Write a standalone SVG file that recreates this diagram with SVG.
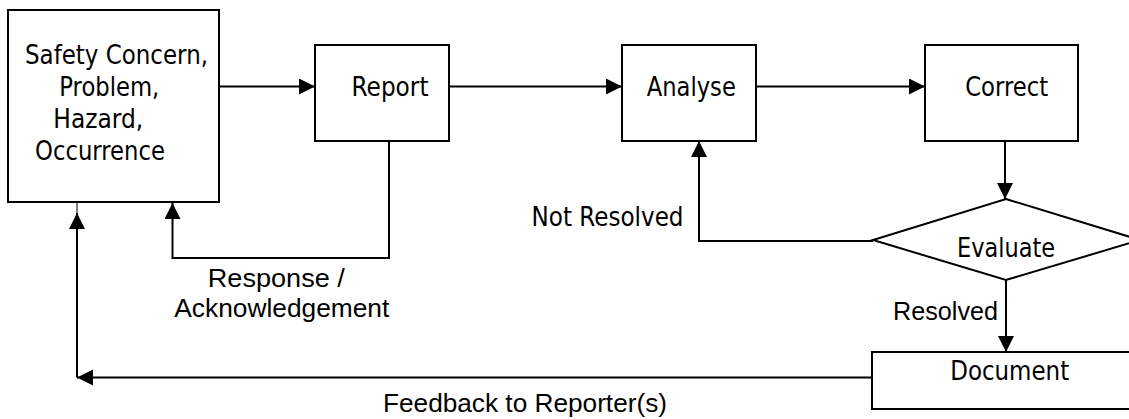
<svg xmlns="http://www.w3.org/2000/svg" width="1129" height="419" viewBox="0 0 1129 419">
<style>
.box{fill:#fff;stroke:#000;stroke-width:2}
.c{fill:none;stroke:#000;stroke-width:2}
.t{font-family:"DejaVu Sans",Tahoma,sans-serif;font-size:26px;fill:#000;text-anchor:middle}
.a{font-family:"Liberation Sans",Arial,sans-serif;font-size:26px;fill:#000;text-anchor:middle}
</style>
<defs>
<marker id="ah" markerUnits="userSpaceOnUse" markerWidth="17" markerHeight="17" refX="16" refY="8" orient="auto">
<path d="M0,0 L16,8 L0,16 z" fill="#000"/>
</marker>
</defs>
<rect width="1129" height="419" fill="#fff"/>
<g id="connectors">
<path class="c" d="M219,86.5 H315" marker-end="url(#ah)"/>
<path class="c" d="M449,86.5 H622" marker-end="url(#ah)"/>
<path class="c" d="M756,86.5 H925" marker-end="url(#ah)"/>
<path class="c" d="M1005,141 V199" marker-end="url(#ah)"/>
<path class="c" d="M873,241 H699 V141" marker-end="url(#ah)"/>
<path class="c" d="M1006,280 V352" marker-end="url(#ah)"/>
<path class="c" d="M389,133 V258 H172.5 V203" marker-end="url(#ah)"/>
<path class="c" d="M872,377.5 H77" marker-end="url(#ah)"/>
<path class="c" d="M77,377.5 V213" marker-end="url(#ah)"/>
<path d="M77,213 V202" stroke="#000" stroke-width="1"/>
</g>
<g id="n-safety">
<rect class="box" x="8" y="10" width="211" height="192"/>
<text class="t" x="116.5" y="64" textLength="183" lengthAdjust="spacingAndGlyphs">Safety Concern,</text>
<text class="t" x="109.3" y="96" textLength="100" lengthAdjust="spacingAndGlyphs">Problem,</text>
<text class="t" x="98.3" y="128" textLength="90" lengthAdjust="spacingAndGlyphs">Hazard,</text>
<text class="t" x="100" y="160" textLength="130" lengthAdjust="spacingAndGlyphs">Occurrence</text>
</g>
<g id="n-report">
<rect class="box" x="315" y="45" width="134" height="96"/>
<text class="t" x="390" y="96" textLength="77" lengthAdjust="spacingAndGlyphs">Report</text>
</g>
<g id="n-analyse">
<rect class="box" x="622" y="45" width="134" height="96"/>
<text class="t" x="691.3" y="96" textLength="89" lengthAdjust="spacingAndGlyphs">Analyse</text>
</g>
<g id="n-correct">
<rect class="box" x="925" y="45" width="153" height="96"/>
<text class="t" x="1006.7" y="96" textLength="83" lengthAdjust="spacingAndGlyphs">Correct</text>
</g>
<g id="n-evaluate">
<polygon class="box" points="1006,199 1140,240 1006,280 873,240"/>
<text class="t" x="1006" y="257" textLength="98" lengthAdjust="spacingAndGlyphs">Evaluate</text>
</g>
<g id="n-document">
<rect class="box" x="872" y="352" width="270" height="57"/>
<text class="t" x="1009.7" y="380" textLength="119" lengthAdjust="spacingAndGlyphs">Document</text>
</g>
<g id="labels">
<text class="t" x="607.5" y="226" textLength="152" lengthAdjust="spacingAndGlyphs">Not Resolved</text>
<text class="a" x="276.3" y="287" textLength="137" lengthAdjust="spacingAndGlyphs">Response /</text>
<text class="a" x="281.8" y="317" textLength="215" lengthAdjust="spacingAndGlyphs">Acknowledgement</text>
<text class="a" x="945.5" y="320" textLength="105" lengthAdjust="spacingAndGlyphs">Resolved</text>
<text class="a" x="525" y="412" textLength="284" lengthAdjust="spacingAndGlyphs">Feedback to Reporter(s)</text>
</g>
</svg>
